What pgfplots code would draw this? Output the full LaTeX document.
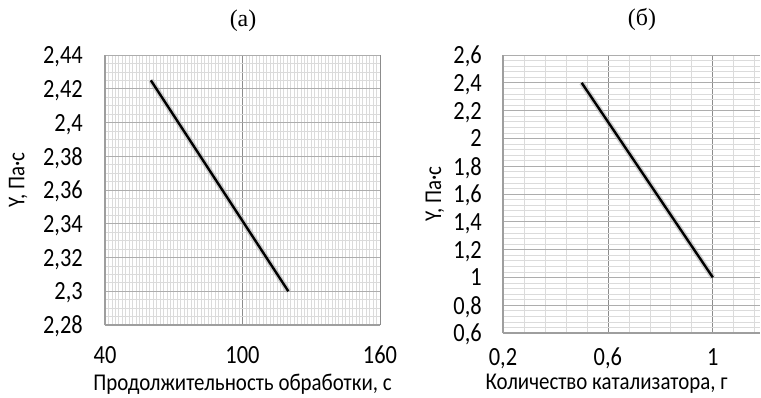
\documentclass[border=0pt]{standalone}
\usepackage{fontspec}
\setmainfont{Carlito}
\newfontfamily\titlefont{Liberation Serif}
\usepackage{graphicx}
\usepackage{pgfplots}
\pgfplotsset{compat=1.18}
\definecolor{majgridx}{gray}{0.55}
\definecolor{majgridy}{gray}{0.68}
\definecolor{mingrid}{gray}{0.86}
\definecolor{axisgray}{gray}{0.62}
\newcommand{\tall}[1]{\scalebox{1}[1.15]{#1}}
\pgfplotsset{
  excelstyle/.style={
    scale only axis,
    anchor=south west,
    axis x line*=bottom, axis y line*=left,
    axis line style={-, axisgray, line width=1.6bp},
    grid=both,
    major x grid style={majgridx, line width=0.8bp},
    major y grid style={majgridy, line width=0.9bp},
    minor grid style={mingrid, line width=0.7bp},
    major tick length=0pt, minor tick length=0pt,
    tick style={draw=none},
    /pgf/number format/.cd, use comma, assume math mode=true, 1000 sep={},
    /pgfplots/.cd,
    tick label style={font=\fontsize{22.5}{26}\selectfont, text depth=0pt, inner sep=0pt, yscale=1.17},
    label style={font=\fontsize{21}{25}\selectfont},
    clip=false,
  }
}
\begin{document}
\begin{tikzpicture}[x=1bp,y=1bp]
\useasboundingbox (0,0) rectangle (761,-397);
% ---------- panel (a)
\begin{axis}[excelstyle,
  at={(105bp,-325bp)}, width=275bp, height=270bp,
  xmin=40, xmax=160, ymin=2.28, ymax=2.44,
  xtick={40,100,160}, minor x tick num=39,
  ytick={2.28,2.3,2.32,2.34,2.36,2.38,2.4,2.42,2.44}, minor y tick num=3,
  yticklabel style={anchor=east, xshift=-22bp},
  xticklabel style={anchor=center, yshift=-25.6bp},
  xlabel={\tall{Продолжительность обработки, с}},
  xlabel style={at={(axis description cs:0.5,0)}, anchor=center, yshift=-59bp},
  ylabel={\tall{Y, Па·с}},
  ylabel style={at={(axis description cs:-0.316,0.537)}, anchor=center, rotate=0},
  title={\titlefont\fontsize{24}{28}\selectfont (a)},
  title style={at={(axis description cs:0.502,1.104)}, anchor=center},
]
\addplot[black!30, opacity=0.6, line width=5.5bp] coordinates {(60,2.425) (120,2.30)};
\addplot[black, line width=2.4bp] coordinates {(60,2.425) (120,2.30)};
\end{axis}
% ---------- panel (b)
\begin{axis}[excelstyle,
  at={(503bp,-333bp)}, width=257bp, height=278bp,
  xmin=0.2, xmax=1.18, ymin=0.6, ymax=2.6,
  xtick={0.2,0.6,1.0},
  minor xtick={0.28,0.36,0.44,0.52,0.68,0.76,0.84,0.92,1.08,1.16},
  ytick={0.6,0.8,1.0,1.2,1.4,1.6,1.8,2.0,2.2,2.4,2.6}, minor y tick num=4,
  yticklabel style={anchor=east, xshift=-21bp},
  xticklabel style={anchor=center, yshift=-20.5bp},
  xlabel={\tall{Количество катализатора, г}},
  xlabel style={at={(axis description cs:0.403,0)}, anchor=center, yshift=-51bp},
  ylabel={\tall{Y, Па·с}},
  ylabel style={at={(axis description cs:-0.265,0.5)}, anchor=center, rotate=0},
  title={\titlefont\fontsize{24}{28}\selectfont (б)},
  title style={at={(axis description cs:0.541,1.108)}, anchor=center},
]
\addplot[black!30, opacity=0.6, line width=5.5bp] coordinates {(0.5,2.4) (1.0,1.0)};
\addplot[black, line width=2.4bp] coordinates {(0.5,2.4) (1.0,1.0)};
\end{axis}
\end{tikzpicture}
\end{document}
